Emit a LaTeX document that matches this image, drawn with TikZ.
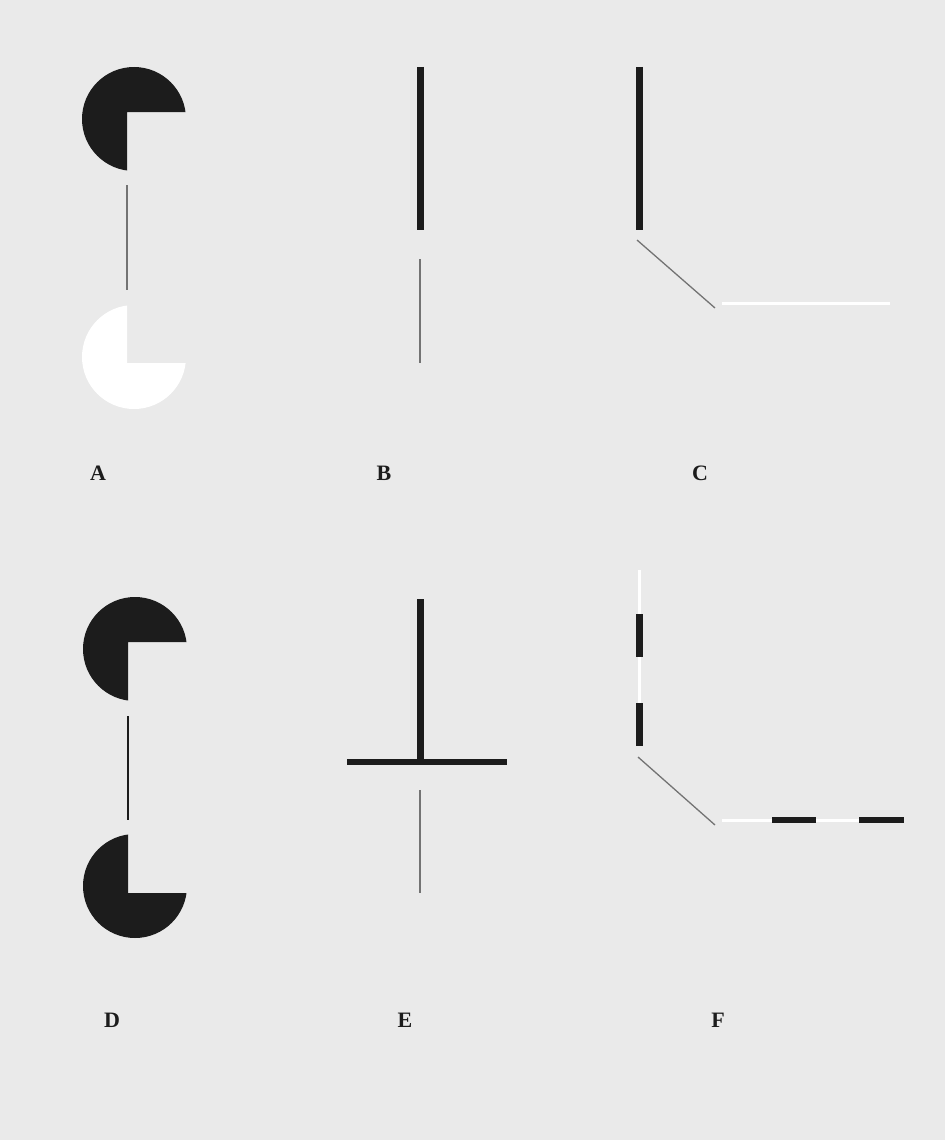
\documentclass[tikz,border=0pt]{standalone}
\usepackage{fontspec}
\setmainfont{Liberation Serif}
\usepackage{tikz}
\usetikzlibrary{positioning}
\usepackage{xcolor}
\definecolor{paper}{RGB}{234,234,234}
\definecolor{ink}{RGB}{28,28,28}
\definecolor{faint}{RGB}{115,115,115}

\begin{document}
\begin{tikzpicture}[x=1pt, y=-1pt, lbl/.style={font=\bfseries\fontsize{22}{26}\selectfont,inner sep=0pt,ink}, bar/.style={line width=7pt,ink}, thin/.style={line width=1.3pt,faint}, glow/.style={line width=3pt,white}]
\useasboundingbox (0,0) rectangle (945,1140);
\fill[paper] (0,0) rectangle (945,1140);
% A: black inducer above, white inducer below
\begin{scope}
\clip (127,112) -- (127,200) -- (60,200) -- (60,40) -- (210,40) -- (210,112) -- cycle;
\fill[ink] (134,119) circle[radius=52];
\end{scope}
\begin{scope}
\clip (127,363) -- (127,290) -- (60,290) -- (60,430) -- (210,430) -- (210,363) -- cycle;
\fill[white] (134,357) circle[radius=52];
\end{scope}
\coordinate (a1) at (127,185);
\coordinate (a2) at (127,290);
\draw[thin] (a1) -- (a2);
\node[lbl] (lblA) at (98,473) {A};
% B
\coordinate (b1) at (420,67);
\coordinate (b2) at (420,230);
\coordinate (b3) at (420,259);
\coordinate (b4) at (420,363);
\draw[bar] (b1) -- (b2);
\draw[thin] (b3) -- (b4);
\node[lbl] (lblB) at (384,473) {B};
% C
\coordinate (c1) at (639,67);
\coordinate (c2) at (639,230);
\coordinate (c3) at (637,240);
\coordinate (c4) at (715,308);
\coordinate (c5) at (722,303);
\coordinate (c6) at (890,303);
\draw[bar] (c1) -- (c2);
\draw[thin] (c3) -- (c4);
\draw[glow] (c5) -- (c6);
\node[lbl] (lblC) at (700,473) {C};
% D: two black inducers
\begin{scope}
\clip (128,642) -- (128,730) -- (60,730) -- (60,570) -- (210,570) -- (210,642) -- cycle;
\fill[ink] (135,649) circle[radius=52];
\end{scope}
\begin{scope}
\clip (128,893) -- (128,820) -- (60,820) -- (60,960) -- (210,960) -- (210,893) -- cycle;
\fill[ink] (135,886) circle[radius=52];
\end{scope}
\coordinate (d1) at (128,716);
\coordinate (d2) at (128,820);
\draw[line width=2pt,ink] (d1) -- (d2);
\node[lbl] (lblD) at (112,1020) {D};
% E
\coordinate (e1) at (420,599);
\coordinate (e2) at (420,762);
\coordinate (e3) at (347,762);
\coordinate (e4) at (507,762);
\coordinate (e5) at (420,790);
\coordinate (e6) at (420,893);
\draw[bar] (e1) -- (e2);
\draw[bar,line width=6pt] (e3) -- (e4);
\draw[thin] (e5) -- (e6);
\node[lbl] (lblE) at (405,1020) {E};
% F
\coordinate (f1) at (639,570);
\coordinate (f2) at (639,746);
\coordinate (f3) at (638,757);
\coordinate (f4) at (715,825);
\coordinate (f5) at (722,820);
\coordinate (f6) at (904,820);
\draw[glow] (f1) -- (f2);
\draw[bar] (639,614) -- (639,657);
\draw[bar] (639,703) -- (f2);
\draw[thin] (f3) -- (f4);
\draw[glow] (f5) -- (f6);
\draw[bar,line width=6pt] (772,820) -- (816,820);
\draw[bar,line width=6pt] (859,820) -- (f6);
\node[lbl] (lblF) at (718,1020) {F};
\end{tikzpicture}
\end{document}
